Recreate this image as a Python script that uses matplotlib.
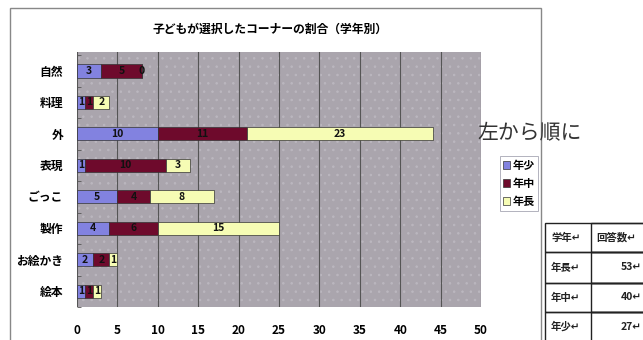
import matplotlib
matplotlib.use("Agg")
import matplotlib.pyplot as plt
from matplotlib.patches import Rectangle
import numpy as np

plt.rcParams['font.family'] = ['Noto Sans CJK JP', 'DejaVu Sans']
plt.rcParams['hatch.linewidth'] = 0.6

# データ（上から順）
corners = ["自然", "料理", "外", "表現", "ごっこ", "製作", "お絵かき", "絵本"]
nensho = [3, 1, 10, 1, 5, 4, 2, 1]
nenchu = [5, 1, 11, 10, 4, 6, 2, 1]
nencho = [0, 2, 23, 3, 8, 15, 1, 1]
series_names = ["年少", "年中", "年長"]
colors = ["#8282e0", "#6e0a2c", "#f6fcb4"]

table_rows = [["学年", "回答数"], ["年長", "53"], ["年中", "40"], ["年少", "27"]]

fig = plt.figure(figsize=(6.43, 3.4), dpi=100)

# グラフの枠
fig.patches.append(Rectangle((10/643, -0.05), 531/643, 1 - 8/340 + 0.05,
                             transform=fig.transFigure, fill=False,
                             edgecolor="#888888", linewidth=1.0))

ax = fig.add_axes([77/643, 1 - 307/340, 404/643, 255/340])
ax.set_facecolor("#aaa5ad")
ax.add_patch(Rectangle((0, -0.4), 50, 8, facecolor="none", edgecolor="#bbb7bf",
                       hatch="..", linewidth=0, zorder=0))

y = np.arange(len(corners))[::-1]
left = np.zeros(len(corners))
for vals, name, c in zip([nensho, nenchu, nencho], series_names, colors):
    bars = ax.barh(y, vals, left=left, height=0.42, color=c, edgecolor="#333333",
                   linewidth=0.5, label=name, zorder=3)
    ax.bar_label(bars, labels=[str(v) for v in vals], label_type="center",
                 fontsize=7.5, fontweight="bold", color="#111111", zorder=4)
    left += np.array(vals)

ax.set_xlim(0, 50)
ax.set_ylim(-0.4, 7.6)
ax.set_xticks(range(0, 51, 5))
ax.set_xticklabels([str(v) for v in range(0, 51, 5)], fontsize=8.5, fontweight="bold")
ax.set_yticks(y)
ax.set_yticklabels(corners, fontsize=8.5, fontweight="bold")
ax.set_yticks(np.arange(-0.5, 7.6, 1.0), minor=True)
ax.tick_params(axis="x", length=0, pad=12)
ax.tick_params(axis="y", length=0, pad=10)
ax.tick_params(axis="y", which="minor", length=3, direction="in", color="#555555")
ax.grid(axis="x", color="#555555", linewidth=0.8, zorder=1)
for s in ax.spines.values():
    s.set_visible(False)

fig.text(270/643, 1 - 29/340, "子どもが選択したコーナーの割合（学年別）",
         ha="center", va="center", fontsize=8.5, fontweight="bold")

leg = fig.legend(loc="upper left", bbox_to_anchor=(494/643, 1 - 150/340),
                 frameon=True, handlelength=0.6, handleheight=0.6,
                 handletextpad=0.3, borderpad=0.3, labelspacing=0.45,
                 fancybox=False, edgecolor="#9090a0", prop={"weight": "bold", "size": 8})
leg.get_frame().set_linewidth(0.6)

fig.text(477/643, 1 - 133/340, "左から順に", ha="left", va="center",
         fontsize=15, color="#333333")

# 右下の表
tx0, tx1, tx2 = 545, 591, 660
ty = [223, 252, 283, 312, 341]
for i in range(4):
    fig.patches.append(Rectangle((tx0/643, 1 - ty[i+1]/340), (tx2 - tx0)/643,
                                 (ty[i+1] - ty[i])/340, transform=fig.transFigure,
                                 fill=False, edgecolor="#222222", linewidth=1.0))
    fig.patches.append(Rectangle((tx1/643, 1 - ty[i+1]/340), (tx2 - tx1)/643,
                                 (ty[i+1] - ty[i])/340, transform=fig.transFigure,
                                 fill=False, edgecolor="#222222", linewidth=1.0))
    yc = 1 - (ty[i] + ty[i+1]) / 2 / 340
    a, b = table_rows[i]
    fig.text((tx0 + 6)/643, yc, a + "↵", ha="left", va="center", fontsize=7.5,
             fontweight="bold", color="#222222")
    if i == 0:
        fig.text((tx1 + 5)/643, yc, b + "↵", ha="left", va="center", fontsize=7.5,
                 fontweight="bold", color="#222222")
    else:
        fig.text(642/643, yc, b + "↵", ha="right", va="center", fontsize=7.5,
                 fontweight="bold", color="#222222")

fig.savefig("out.png", dpi=100)
